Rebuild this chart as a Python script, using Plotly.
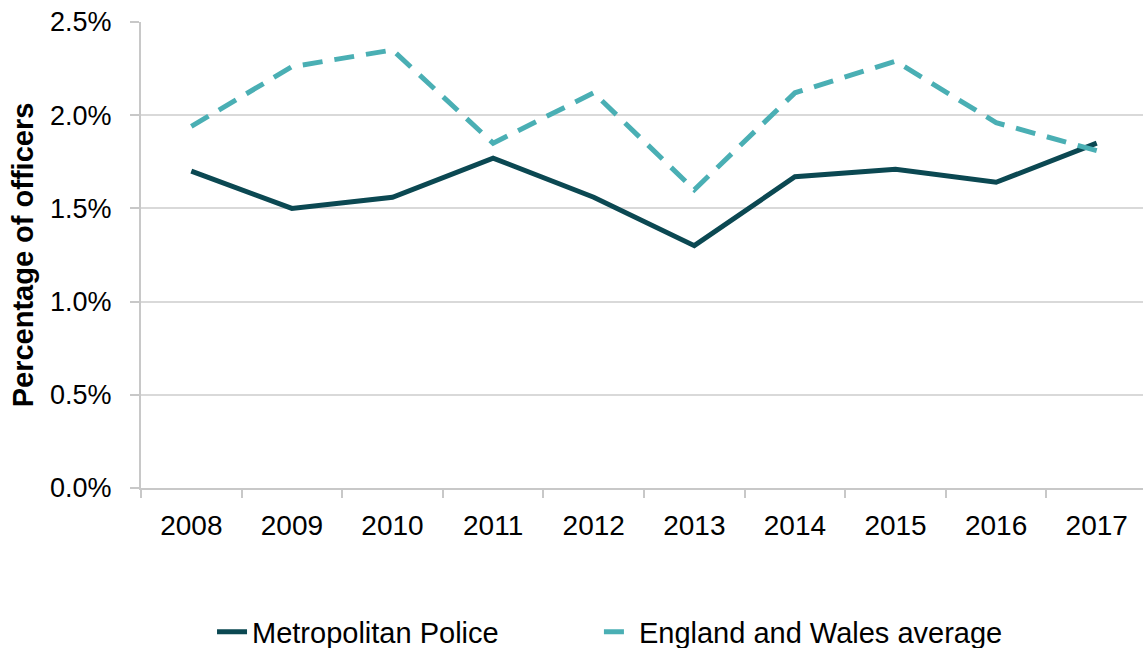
import plotly.graph_objects as go

years = ["2008", "2009", "2010", "2011", "2012", "2013", "2014", "2015", "2016", "2017"]
metropolitan_police = [1.70, 1.50, 1.56, 1.77, 1.56, 1.30, 1.67, 1.71, 1.64, 1.85]
england_wales_avg = [1.94, 2.26, 2.35, 1.85, 2.12, 1.60, 2.12, 2.29, 1.96, 1.81]
y_ticks = [0.0, 0.5, 1.0, 1.5, 2.0, 2.5]
y_tick_labels = ["0.0%", "0.5%", "1.0%", "1.5%", "2.0%", "2.5%"]

FONT = "Liberation Sans, Arial, sans-serif"

fig = go.Figure()
fig.add_trace(go.Scatter(
    x=years, y=metropolitan_police, mode="lines", name="Metropolitan Police",
    line=dict(color="#0b4852", width=5), legend="legend",
))
fig.add_trace(go.Scatter(
    x=years, y=england_wales_avg, mode="lines", name="England and Wales average",
    line=dict(color="#4aafb4", width=5, dash="20px,12px"), legend="legend2",
))

legend_common = dict(
    orientation="h", xref="container", yref="container",
    y=0.0247, xanchor="left", yanchor="middle",
    font=dict(size=29), bgcolor="rgba(0,0,0,0)",
)

fig.update_layout(
    width=1143, height=648,
    margin=dict(l=141, r=0, t=22, b=160),
    paper_bgcolor="white", plot_bgcolor="white",
    font=dict(family=FONT, size=27, color="#000000"),
    showlegend=True,
    legend=dict(x=0.1855, **legend_common),
    legend2=dict(x=0.524, **legend_common),
    xaxis=dict(
        type="category", range=[-0.5, 9.46],
        showgrid=False, showline=True, linecolor="#c8c8c8", linewidth=2,
        ticks="outside", tickson="boundaries", ticklen=8, tickcolor="#c8c8c8", tickwidth=2,
        tickfont=dict(size=28), ticklabelstandoff=11,
    ),
    yaxis=dict(
        range=[0, 2.5], tickvals=y_ticks, ticktext=y_tick_labels,
        showgrid=True, gridcolor="#d9d9d9", gridwidth=2,
        showline=True, linecolor="#c8c8c8", linewidth=2,
        ticks="outside", ticklen=9, tickcolor="#c8c8c8", tickwidth=2,
        tickfont=dict(size=27), ticklabelstandoff=13,
        zeroline=False,
        title=dict(text="<b>Percentage of officers</b>", font=dict(size=29), standoff=8),
    ),
)

fig.write_html("out.html")
